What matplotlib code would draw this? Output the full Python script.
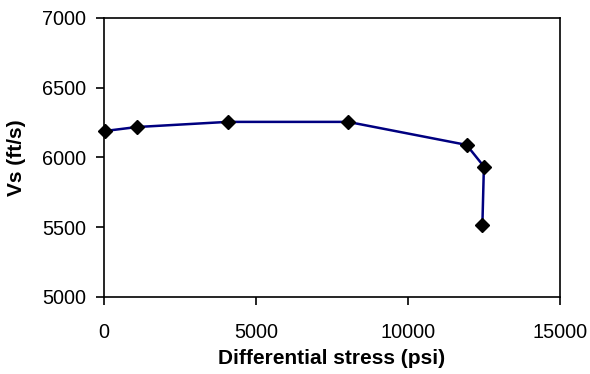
import matplotlib
matplotlib.use("Agg")
import matplotlib.pyplot as plt

plt.rcParams["font.family"] = ["Liberation Sans", "DejaVu Sans"]

# differential stress (psi) vs shear velocity (ft/s)
stress = [50, 1080, 4070, 8030, 11930, 12500, 12450]
vs = [6190, 6218, 6255, 6255, 6090, 5935, 5515]

fig = plt.figure(figsize=(5.9, 3.74), dpi=100)
ax = fig.add_axes([0.176, 0.206, 0.773, 0.746])

ax.plot(stress, vs, color="#000080", linewidth=1.8, marker="D", markersize=7,
        markerfacecolor="black", markeredgecolor="black", clip_on=False, zorder=3)

ax.set_xlim(0, 15000)
ax.set_ylim(5000, 7000)
ax.set_xticks([0, 5000, 10000, 15000])
ax.set_yticks([5000, 5500, 6000, 6500, 7000])
ax.tick_params(direction="out", length=5.5, width=1.2, labelsize=14.3, colors="black")
ax.tick_params(axis="y", pad=7)
ax.tick_params(axis="x", pad=13)
for s in ax.spines.values():
    s.set_linewidth(1.2)

ax.set_xlabel("Differential stress (psi)", fontsize=15, fontweight="bold", labelpad=5)
ax.set_ylabel("Vs (ft/s)", fontsize=15, fontweight="bold", labelpad=12)

plt.savefig("out.png", dpi=100)
